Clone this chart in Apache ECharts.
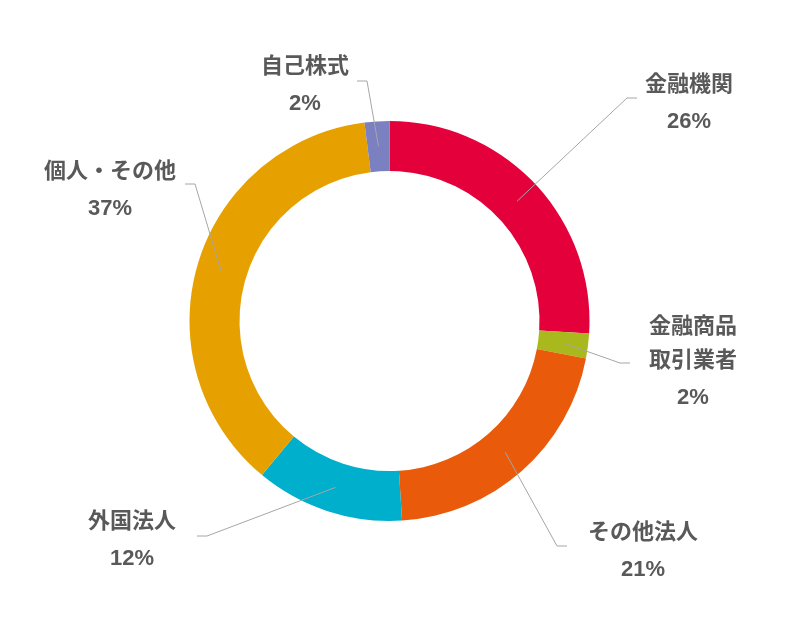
<!DOCTYPE html>
<html><head><meta charset="utf-8">
<script src="https://cdn.jsdelivr.net/npm/echarts@6/dist/echarts.min.js"></script>
<style>html,body{margin:0;padding:0;background:#fff}#c{width:800px;height:640px}</style>
</head><body><div id="c"></div>
<script>
// ---- data ----
const categories = ['金融機関', '金融商品\n取引業者', 'その他法人', '外国法人', '個人・その他', '自己株式'];
const shares = [26, 2, 21, 12, 37, 2];

// ---- styles / layout ----
const colors = ['#E4003A', '#A9B81C', '#E95A0B', '#00AFCB', '#E6A100', '#7A80C0'];
const labelPlace = [
  { x: 689, y: 68,  elbow: [627, 98],  tail: 10 },
  { x: 693, y: 310, elbow: [620, 363], tail: 10 },
  { x: 643, y: 516, elbow: [557, 546], tail: 10 },
  { x: 132, y: 505, elbow: [207, 536], tail: -10 },
  { x: 110, y: 155, elbow: [195, 184], tail: -10 },
  { x: 305, y: 50,  elbow: [367, 81],  tail: -10 }
];
const textFont = '"Liberation Sans", "Noto Sans CJK JP", sans-serif';

const seriesData = categories.map((n, i) => ({ name: n, value: shares[i], itemStyle: { color: colors[i] } }));
const overlayData = categories.map((n, i) => ({ name: n, value: shares[i] }));

const chart = echarts.init(document.getElementById('c'), null, { renderer: 'canvas' });
chart.setOption({
  animation: false,
  backgroundColor: '#fff',
  series: [
    {
      type: 'pie',
      z: 1,
      center: [389.5, 321],
      radius: [150, 200],
      startAngle: 90,
      clockwise: true,
      silent: true,
      label: { show: false },
      labelLine: { show: false },
      itemStyle: { borderWidth: 0 },
      data: seriesData
    },
    {
      type: 'pie',
      z: 5,
      zlevel: 1,
      center: [389.5, 321],
      radius: [0, 175],
      startAngle: 90,
      clockwise: true,
      silent: true,
      avoidLabelOverlap: false,
      itemStyle: { color: 'rgba(0,0,0,0)', borderWidth: 0 },
      label: {
        show: true,
        position: 'outside',
        align: 'center',
        fontFamily: textFont,
        fontWeight: 'bold',
        color: '#595959',
        formatter: function (p) {
          const lines = p.name.split('\n').map(s => '{n|' + s + '}');
          return lines.join('\n') + '\n{p|' + Math.round(p.percent) + '%}';
        },
        rich: {
          n: { fontFamily: textFont, fontWeight: 'bold', fontSize: 22, color: '#595959', lineHeight: 34, align: 'center' },
          p: { fontFamily: textFont, fontWeight: 'bold', fontSize: 22, color: '#595959', lineHeight: 40, align: 'center' }
        }
      },
      labelLine: {
        show: true,
        length: 20,
        length2: 10,
        smooth: false,
        lineStyle: { color: '#A6A6A6', width: 1 }
      },
      labelLayout: function (params) {
        const lp = labelPlace[params.dataIndex];
        const start = params.labelLinePoints ? params.labelLinePoints[0] : lp.elbow;
        return {
          x: lp.x,
          y: lp.y,
          align: 'center',
          verticalAlign: 'top',
          labelLinePoints: [start, lp.elbow, [lp.elbow[0] + lp.tail, lp.elbow[1]]]
        };
      },
      data: overlayData
    }
  ]
});
</script>
</body></html>
